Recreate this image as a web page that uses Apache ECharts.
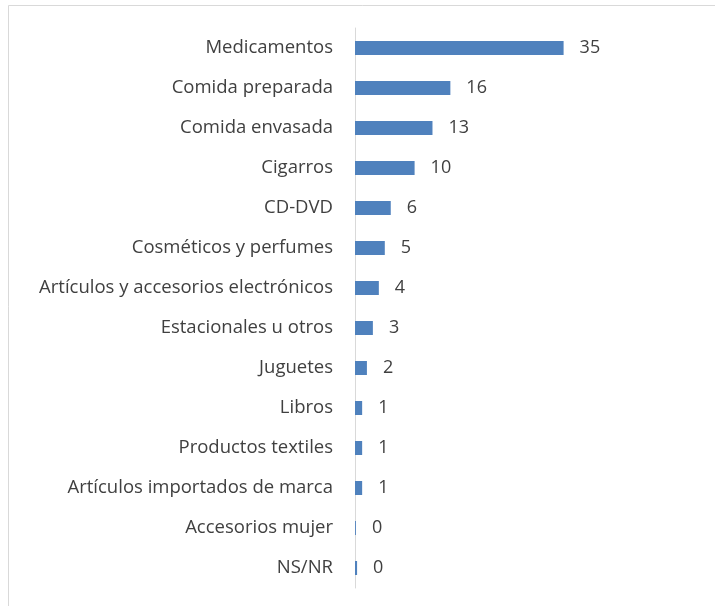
<!DOCTYPE html>
<html><head><meta charset="utf-8">
<script src="https://cdn.jsdelivr.net/npm/echarts@6/dist/echarts.min.js"></script>
<style>html,body{margin:0;padding:0;background:#fff}#c{width:715px;height:606px}</style>
</head><body><div id="c"></div>
<script>
const categories = ["Medicamentos","Comida preparada","Comida envasada","Cigarros","CD-DVD","Cosméticos y perfumes","Artículos y accesorios electrónicos","Estacionales u otros","Juguetes","Libros","Productos textiles","Artículos importados de marca","Accesorios mujer","NS/NR"];
const values = [35,16,13,10,6,5,4,3,2,1.2,1.2,1.2,0.15,0.35];

const chart = echarts.init(document.getElementById('c'), null, {renderer:'canvas'});
chart.setOption({
  animation:false,
  backgroundColor:'#fff',
  graphic:[{type:'rect',shape:{x:8.5,y:5.5,width:720,height:620},style:{fill:'none',stroke:'#d9d9d9',lineWidth:1},silent:true}],
  grid:{left:355,right:62,top:28,bottom:18},
  xAxis:{type:'value',min:0,max:50,show:false},
  yAxis:{type:'category',data:categories,inverse:true,
    axisLine:{show:true,lineStyle:{color:'#d9d9d9',width:1}},
    axisTick:{show:false},
    axisLabel:{color:'#404040',fontFamily:'Open Sans',fontSize:18.5,margin:22,padding:[2,0,0,0]}},
  series:[{type:'bar',data:values,barWidth:'35%',itemStyle:{color:'#4f81bd'},
    label:{show:true,position:'right',distance:16,color:'#404040',fontFamily:'Open Sans',fontSize:18,padding:[2,0,0,0],
      formatter:p=>Math.round(p.value)}}]
});
</script></body></html>
